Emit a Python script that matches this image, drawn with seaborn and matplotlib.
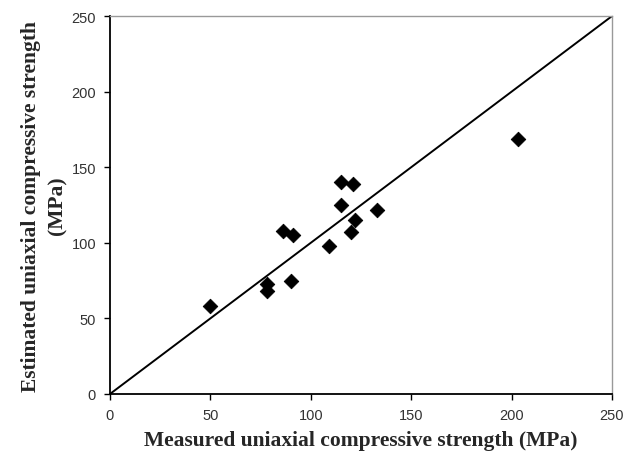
import matplotlib.pyplot as plt
import seaborn as sns
import pandas as pd

# Measured vs estimated UCS (MPa)
measured = [50, 78, 78, 90, 86, 91, 109, 115, 121, 115, 122, 120, 133, 203]
estimated = [58, 68, 73, 75, 108, 105, 98, 140, 139, 125, 115, 107, 122, 169]
line_1to1 = [0, 250]
ticks = [0, 50, 100, 150, 200, 250]

df = pd.DataFrame({"measured": measured, "estimated": estimated})
ref = pd.DataFrame({"x": line_1to1, "y": line_1to1})

sns.set_style("white")
plt.rcParams['font.family'] = ['Liberation Sans', 'DejaVu Sans']

fig = plt.figure(figsize=(6.25, 4.77), dpi=100)
ax = fig.add_axes([0.176, 0.172, 0.803, 0.792])

sns.lineplot(data=ref, x="x", y="y", color="black", lw=1.4, ax=ax)
sns.scatterplot(data=df, x="measured", y="estimated", marker="D", s=55,
                color="black", edgecolor="black", ax=ax, zorder=3)

ax.set_xlim(0, 250)
ax.set_ylim(0, 250)
ax.set_xticks(ticks)
ax.set_yticks(ticks)
ax.tick_params(direction="out", length=4, width=1, colors="black",
               labelcolor="#333333", labelsize=10.5, pad=6)
ax.tick_params(axis="x", bottom=True)
ax.tick_params(axis="y", left=True)

for side in ["left", "bottom"]:
    ax.spines[side].set_color("black")
    ax.spines[side].set_linewidth(1.3)
for side in ["top", "right"]:
    ax.spines[side].set_color("#999999")
    ax.spines[side].set_linewidth(1.0)

label_font = dict(family=["Liberation Serif", "DejaVu Serif"], fontweight="bold", fontsize=15.5)
ax.set_xlabel("Measured uniaxial compressive strength (MPa)", labelpad=6, **label_font)
ax.set_ylabel("Estimated uniaxial compressive strength\n(MPa)", labelpad=3,
              linespacing=1.45, **label_font)

fig.savefig("out.png", dpi=100, facecolor="white")
